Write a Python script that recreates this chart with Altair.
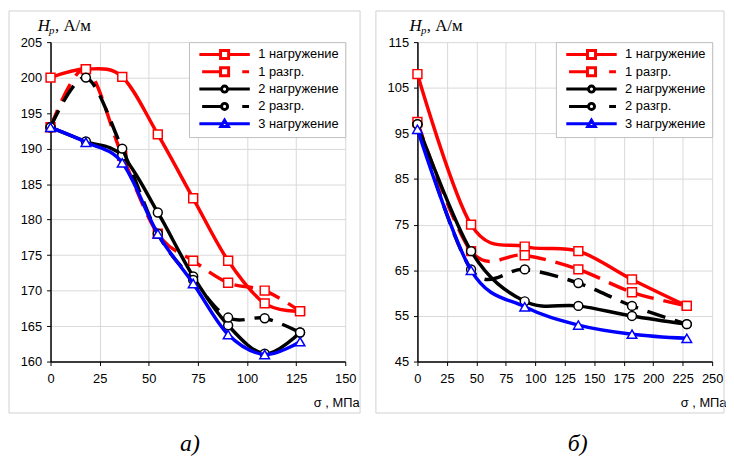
import altair as alt
import pandas as pd

# ---------------- data ----------------
series_names = ["1 нагружение", "1 разгр.", "2 нагружение", "2 разгр.", "3 нагружение"]
series_colors = ["#ff0000", "#ff0000", "#000000", "#000000", "#0000ff"]
series_dashed = [False, True, False, True, False]
series_markers = ["square", "square", "circle", "circle", "triangle-up"]

# panel а)
a_stress = [0, 18, 36.5, 54.6, 72.6, 90.4, 109, 127]
a_load1 = [200, 201.2, 200.1, 192, 183, 174.2, 168.2, 167.1]
a_unload1 = [193, 201.2, 189, 178, 174.2, 171.1, 170, 167.1]
a_load2 = [193, 191, 189, 181, 172, 165.1, 161.1, 164.1]
a_unload2 = [193, 200, 190, 178, 171.5, 166.2, 166.1, 164.1]
a_load3 = [193, 190.9, 188, 178, 171, 163.8, 161, 162.8]

# panel б)
b_stress = [0, 45.5, 91, 136.5, 182, 228.5]
b_load1 = [108, 75, 70.2, 69.2, 63, 57.2]
b_unload1 = [97.5, 69.2, 68.3, 65.2, 60.2, 57.2]
b_load2 = [97, 69.2, 58.2, 57.2, 55, 53.2]
b_unload2 = [97, 65.2, 65.2, 62.2, 57.2, 53.2]
b_load3 = [95.9, 65, 57, 53, 51, 50.1]

a_x_ticks = [0, 25, 50, 75, 100, 125, 150]
a_y_ticks = [160, 165, 170, 175, 180, 185, 190, 195, 200, 205]
b_x_ticks = [0, 25, 50, 75, 100, 125, 150, 175, 200, 225, 250]
b_y_ticks = [45, 55, 65, 75, 85, 95, 105, 115]

# legend symbols: line + marker drawn as one path ([-1,1] unit box)
legend_paths = [
    "M-1,0H-0.16M0.16,0H1M-0.16,-0.16H0.16V0.16H-0.16Z",
    "M-0.89,0H-0.16M0.7,0H0.97M-0.16,-0.16H0.16V0.16H-0.16Z",
    "M-1,0H-0.12M0.12,0H1M-0.12,0A0.12,0.12 0 1,0 0.12,0A0.12,0.12 0 1,0 -0.12,0Z",
    "M-0.89,0H-0.12M0.7,0H0.97M-0.12,0A0.12,0.12 0 1,0 0.12,0A0.12,0.12 0 1,0 -0.12,0Z",
    "M-1,0H-0.08M0.08,0H1M0,-0.14L0.15,0.11H-0.15Z",
]

W = 298
H = 323
SANS = "Liberation Sans"
SERIF = "Liberation Serif"


def make_panel(stress, series_values, xdom, xticks, ydom, yticks, title_dx, panel_label, label_dx, frame_right):
    rows = []
    for name, vals in zip(series_names, series_values):
        for s, v in zip(stress, vals):
            rows.append({"stress": s, "value": v, "series": name})
    df = pd.DataFrame(rows)

    xenc = alt.X(
        "stress:Q",
        scale=alt.Scale(domain=xdom, nice=False, zero=False),
        axis=alt.Axis(
            values=xticks, title="σ , МПа", titleFont=SANS, titleFontSize=13,
            titleFontWeight="normal", titleColor="black", titleAlign="right",
            titleAnchor="start", titleX=W + 14, titleY=45, titleBaseline="alphabetic",
            labelFont=SANS, labelFontSize=13, labelColor="black", labelFlush=False,
            labelOverlap=False, labelPadding=7, domainColor="black", domainWidth=1.5,
            tickColor="black", tickSize=4, gridColor="#d9d9d9", gridWidth=1,
        ),
    )
    yenc = alt.Y(
        "value:Q",
        scale=alt.Scale(domain=ydom, nice=False, zero=False),
        axis=alt.Axis(
            values=yticks, title=None, labelFont=SANS, labelFontSize=13,
            labelColor="black", labelFlush=False, labelOverlap=False, labelPadding=5,
            domainColor="black", domainWidth=1.5, tickColor="black", tickSize=4,
            gridColor="#d9d9d9", gridWidth=1,
        ),
    )

    one = pd.DataFrame({"k": [0]})
    frame = alt.Chart(one).mark_rect(
        fill="white", fillOpacity=0, stroke="#d0d0d0", strokeWidth=1
    ).encode(
        x=alt.value(-42), x2=alt.value(W + frame_right),
        y=alt.value(-31.5), y2=alt.value(H + 52),
    )

    layers = [frame]
    for name, col, dashed, mk in zip(series_names, series_colors, series_dashed, series_markers):
        sub = df[df["series"] == name]
        line_kw = dict(interpolate="cardinal", strokeWidth=3.5, color=col)
        if dashed:
            line_kw["strokeDash"] = [19, 10]
        layers.append(alt.Chart(sub).mark_line(**line_kw).encode(x=xenc, y=yenc))
        size = 81 if mk != "triangle-up" else 95
        layers.append(
            alt.Chart(sub).mark_point(
                shape=mk, size=size, filled=True, fill="white", stroke=col,
                strokeWidth=1.5, opacity=1,
            ).encode(x=xenc, y=yenc)
        )

    legend = alt.Legend(
        title=None, orient="top-right", offset=0, padding=6,
        fillColor="white", strokeColor="#bfbfbf",
        symbolSize=2601, symbolStrokeWidth=3, symbolOpacity=1,
        symbolFillColor="white", clipHeight=13, rowPadding=3.5,
        labelFont=SANS, labelFontSize=13, labelColor="black",
        labelOffset=7, symbolOffset=3,
    )
    helper = alt.Chart(df).mark_point(opacity=0, filled=False).encode(
        x=xenc, y=yenc,
        color=alt.Color("series:N", scale=alt.Scale(domain=series_names, range=series_colors), legend=legend),
        shape=alt.Shape("series:N", scale=alt.Scale(domain=series_names, range=legend_paths), legend=legend),
    )
    layers.append(helper)

    def txt(t, dx, dy, size, style, font=SERIF):
        return alt.Chart(pd.DataFrame({"t": [t]})).mark_text(
            font=font, fontSize=size, fontStyle=style, color="black",
            align="left", baseline="alphabetic",
        ).encode(text="t:N", x=alt.value(dx), y=alt.value(dy))

    layers.append(txt("H", title_dx, -11.5, 17, "italic"))
    layers.append(txt("p", title_dx + 11.5, -8, 11, "italic"))
    layers.append(txt(", А/м", title_dx + 17.5, -11.5, 17, "normal"))
    lab = alt.Chart(pd.DataFrame({"t": [panel_label]})).mark_text(
        font=SERIF, fontSize=24, fontStyle="italic", color="black",
        align="center", baseline="alphabetic",
    ).encode(text="t:N", x=alt.value(label_dx), y=alt.value(H + 90))
    layers.append(lab)

    return alt.layer(*layers).properties(width=W, height=H)


left = make_panel(
    a_stress, [a_load1, a_unload1, a_load2, a_unload2, a_load3],
    [0, 150], a_x_ticks, [160, 205], a_y_ticks, -13, "а)", 141, 15,
)
right = make_panel(
    b_stress, [b_load1, b_unload1, b_load2, b_unload2, b_load3],
    [0, 250], b_x_ticks, [45, 115], b_y_ticks, -8, "б)", 162, 12,
)

chart = (
    alt.hconcat(left, right, spacing=14)
    .resolve_scale(color="independent", shape="independent")
    .resolve_legend(color="independent", shape="independent")
    .properties(padding=0, background="white")
    .configure_view(strokeWidth=0)
)

chart.save("out.html", embed_options={"renderer": "svg", "actions": False})
